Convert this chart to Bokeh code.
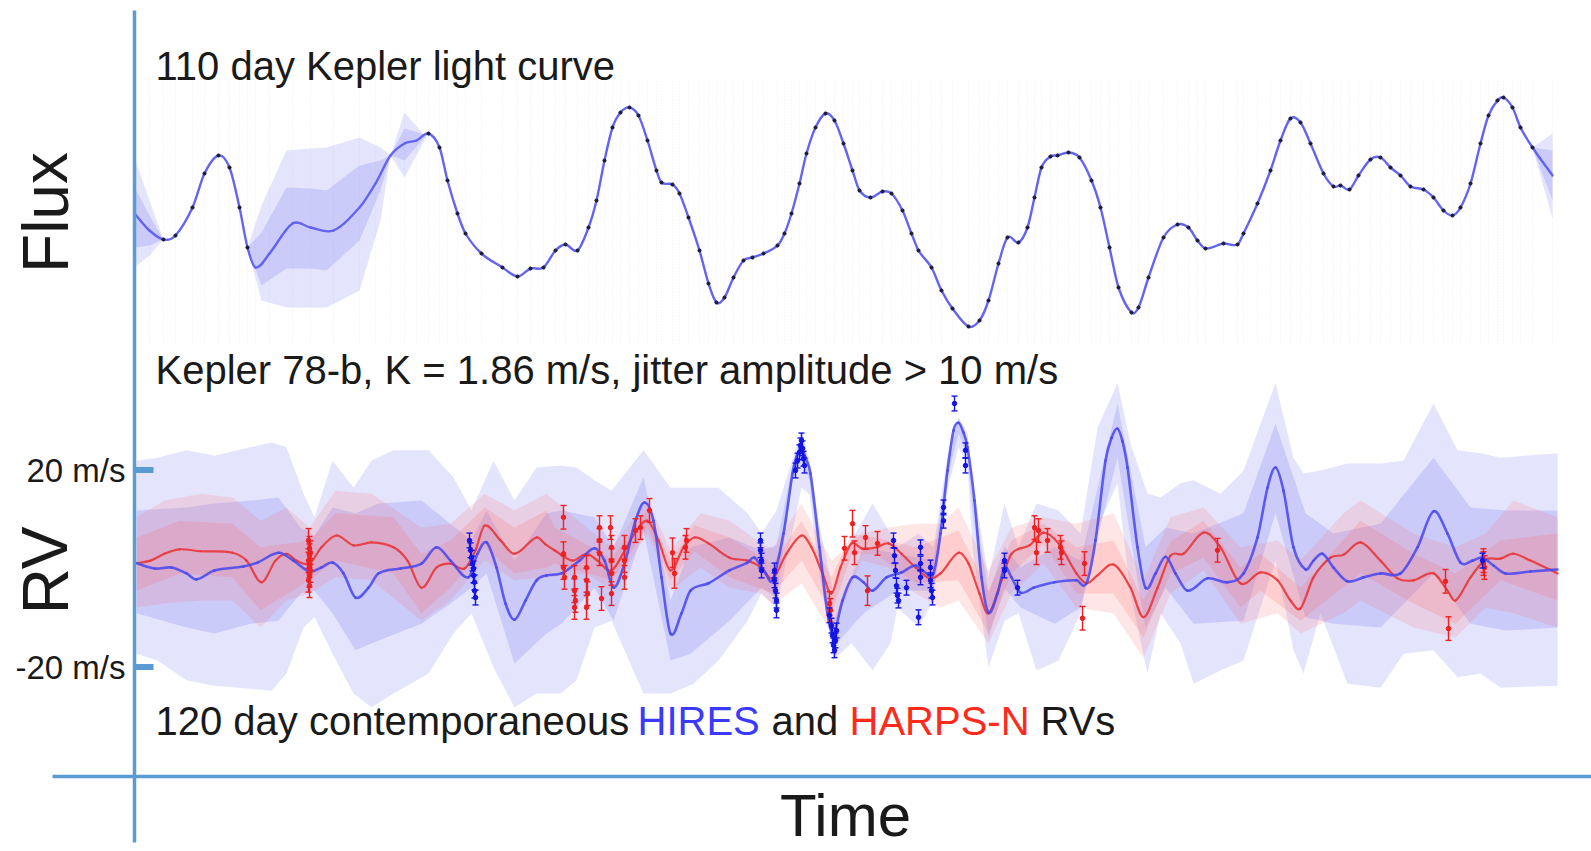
from bokeh.plotting import figure
from bokeh.models import Range1d, Label
from bokeh.embed import file_html
from bokeh.resources import INLINE

# ------------------------------------------------------------------ data
# Kepler light curve: (time [d], flux [ppt])
flux_obs = [(2.9,-0.6),(4.1,-0.2),(5.8,2.6),(7.0,6.0),(8.4,7.8),(9.5,6.6),(10.5,2.6),(11.3,-1.4),
    (29.4,10.0),(30.5,8.6),(31.3,5.3),(32.3,2.0),(33.1,0.0),(34.7,-2.0),(36.8,-3.4),(38.3,-4.3),
    (39.6,-3.5),(40.9,-3.4),(42.1,-1.7),(43.1,-1.1),(44.3,-1.7),(45.4,0.6),(46.2,3.3),(47.0,7.3),
    (47.8,10.6),(48.6,12.1),(49.5,12.6),(50.4,11.8),(51.3,9.3),(52.2,6.3),(52.7,5.1),(53.8,4.9),
    (54.5,4.0),(55.4,1.6),(56.5,-1.7),(57.4,-5.0),(58.2,-6.9),(59.0,-6.4),(59.9,-4.4),(60.9,-2.7),
    (61.8,-2.4),(62.9,-2.0),(64.3,-1.2),(65.0,0.0),(65.7,2.0),(66.5,5.0),(67.2,8.0),(68.1,10.6),
    (69.1,12.0),(70.0,11.3),(70.9,9.0),(71.8,6.3),(72.5,4.3),(73.6,3.6),(74.8,4.2),(75.7,4.0),
    (76.8,2.3),(77.7,0.0),(78.4,-1.7),(79.7,-3.4),(80.7,-5.7),(81.8,-7.5),(83.4,-9.3),(84.5,-8.7),
    (85.4,-6.7),(86.4,-3.0),(87.3,-0.4),(88.4,-0.9),(89.3,0.6),(90.0,3.6),(90.7,6.6),(91.6,7.7),
    (92.3,7.8),(93.4,8.1),(94.5,7.6),(95.7,5.3),(96.6,2.6),(97.5,-1.4),(98.4,-5.4),(99.7,-7.9),
    (100.4,-7.4),(101.4,-4.4),(102.9,-0.4),(104.3,0.9),(105.4,0.6),(106.3,-0.7),(107.1,-1.5),
    (108.9,-1.0),(110.3,-1.1),(110.9,0.0),(112.3,3.0),(113.6,6.3),(114.6,9.3),(115.6,11.5),
    (116.6,11.1),(117.6,9.0),(118.9,6.0),(119.9,4.7),(120.6,4.8),(121.5,4.4),(122.4,5.8),
    (123.6,7.4),(124.6,7.6),(125.6,6.6),(126.6,5.8),(127.6,4.7),(128.9,4.4),(129.9,3.6),
    (130.9,2.3),(131.8,1.8),(132.6,2.6),(133.6,5.0),(134.6,9.0),(135.4,11.8),(136.3,13.3),
    (136.9,13.6),(137.8,12.6),(138.6,10.6),(139.8,8.6)]
# GP prediction where the light curve has no data
flux_gap = [(0.0,2.0),(1.5,0.3),(12.1,-3.4),(13.5,-2.0),(15.8,1.0),(17.6,0.6),(19.9,0.3),
    (22.5,2.6),(24.1,5.0),(25.6,7.8),(27.0,9.0),(28.2,9.3),(141.8,5.8)]
# GP uncertainty bands in the gaps: (t, outer_hi, outer_lo, inner_hi, inner_lo)
flux_band_start = [(0.0,7.6,-3.4,4.6,-1.4),(1.5,3.3,-2.2,1.8,-1.2),(2.9,-0.6,-0.6,-0.6,-0.6)]
flux_band_mid = [(11.3,-1.4,-1.4,-1.4,-1.4),(12.7,2.8,-6.7,0.1,-5.2),(15.2,8.3,-7.4,4.6,-3.5),
    (17.6,8.5,-7.4,4.5,-3.5),(19.2,8.6,-7.4,4.3,-3.7),(22.5,9.6,-5.7,6.8,-0.7),
    (24.6,8.6,1.3,7.3,4.3),(25.6,7.8,7.8,7.8,7.8),(27.0,12.1,5.6,10.5,7.3),
    (29.0,9.8,9.3,9.9,9.6),(29.4,10.0,10.0,10.0,10.0)]
flux_band_end = [(139.8,8.6,8.6,8.6,8.6),(141.8,10.0,1.5,8.3,3.3)]

# HIRES GP mean (t, m/s)
hires_gp = [(0.0,1.2),(2.0,0.0),(3.7,0.2),(5.2,-1.0),(6.2,-2.2),(8.0,-0.4),(10.9,0.4),(12.3,1.2),
    (14.4,3.2),(15.9,1.6),(17.5,-0.6),(18.7,0.2),(19.8,1.2),(20.9,-1.0),(22.1,-5.9),(23.4,-3.9),
    (24.4,-1.0),(26.6,0.0),(28.7,1.0),(30.2,4.3),(31.6,1.6),(33.4,-1.8),(34.3,3.0),(35.2,5.3),
    (36.2,0.2),(37.1,-7.1),(38.0,-10.4),(39.1,-6.5),(40.2,-2.4),(41.2,-1.4),(42.7,-1.0),(44.5,1.6),
    (46.0,4.1),(47.0,1.6),(47.9,-3.9),(49.0,1.0),(50.1,9.7),(51.0,13.4),(51.9,9.7),(52.7,-1.8),
    (53.6,-13.2),(54.7,-9.1),(55.6,-4.5),(57.4,-3.0),(59.5,-0.4),(61.3,1.2),(62.0,2.2),(63.1,-1.0),
    (63.8,-2.4),(64.9,7.1),(65.8,19.3),(66.2,22.7),(66.7,24.4),(67.1,22.5),(67.6,19.3),(68.5,4.3),
    (69.3,-9.1),(69.9,-13.2),(70.8,-6.5),(71.8,-1.8),(72.9,-2.8),(73.8,-4.5),(75.2,-1.8),
    (76.7,-0.8),(78.1,0.6),(79.2,-1.0),(79.9,-1.0),(80.6,7.1),(81.3,19.9),(81.9,28.0),(82.4,29.6),
    (82.9,27.6),(83.3,24.6),(84.0,13.8),(84.7,-1.8),(85.4,-8.9),(86.3,-5.1),(87.0,0.2),(87.7,-1.8),
    (88.6,-4.9),(89.9,-3.9),(92.0,-2.8),(94.2,-2.4),(95.2,-3.0),(96.1,5.7),(97.1,21.9),(97.7,26.5),
    (98.3,28.4),(98.8,25.8),(99.3,20.5),(100.3,4.3),(101.1,-3.9),(102.1,-1.0),(103.1,2.4),
    (104.1,-1.0),(105.3,-4.5),(107.3,-2.0),(109.3,-2.8),(110.9,-1.0),(112.3,6.3),(113.3,16.4),
    (114.1,20.5),(114.9,15.8),(115.9,4.3),(117.1,-0.2),(117.9,1.6),(118.8,3.0),(119.9,0.2),
    (121.3,-2.6),(122.9,-1.8),(124.6,-1.0),(126.6,-1.0),(128.3,4.3),(129.9,11.6),(131.3,7.1),
    (132.6,1.2),(133.8,1.6),(134.8,2.2),(135.9,0.6),(137.1,-1.0),(139.6,-0.6),(142.3,-0.2)]
# HIRES bands (t, hi, lo)
hires_2sig = [(0.2,21.9,-17.3),(2.3,22.5,-18.7),(5.2,24.0,-22.7),(8.0,22.9,-23.8),(11.6,24.6,-24.4),
    (13.7,25.6,-24.8),(15.2,24.6,-21.3),(16.9,15.2,-12.0),(18.0,10.4,-9.9),(19.8,21.9,-17.3),
    (21.9,16.4,-25.4),(23.7,21.9,-28.2),(25.9,24.0,-25.4),(29.4,24.0,-21.3),(31.9,18.5,-13.2),
    (33.7,11.8,-9.1),(35.9,21.9,-20.1),(38.0,13.8,-28.2),(40.2,20.5,-25.4),(42.6,20.9,-25.4),
    (44.2,20.5,-22.7),(46.0,17.9,-12.0),(47.7,15.8,-10.6),(50.9,24.0,-25.4),(53.6,16.4,-25.4),
    (55.9,16.4,-23.4),(58.4,16.4,-18.7),(61.3,11.2,-10.6),(62.7,7.1,-5.1),(64.2,11.8,-8.0),
    (66.7,28.0,16.4),(67.5,22.0,15.0),(68.4,9.7,0.2),(69.9,-5.1,-18.7),(71.7,5.7,-15.2),
    (73.8,13.2,-20.7),(75.6,7.1,-15.2),(76.3,4.3,-7.9),(78.4,7.1,-12.0),(79.9,4.3,-6.5),
    (81.3,23.0,16.0),(82.4,30.7,24.6),(83.3,27.5,21.0),(83.8,17.9,4.3),(85.4,-1.8,-20.1),
    (87.0,13.2,-10.6),(88.4,4.3,-9.1),(90.2,13.2,-20.7),(92.4,11.8,-18.7),(94.6,7.1,-9.1),
    (96.3,28.6,8.3),(98.3,37.6,17.3),(99.6,25.4,-5.1),(101.3,15.2,-21.3),(102.6,14.4,-9.1),
    (104.6,17.3,-15.2),(105.9,17.9,-23.4),(108.6,15.2,-20.7),(110.9,19.9,-18.7),(114.1,37.6,1.6),
    (115.9,22.5,-16.6),(116.9,19.3,-21.3),(118.6,19.9,-9.1),(121.3,21.3,-23.4),(124.6,21.3,-24.2),
    (126.9,21.9,-17.3),(129.9,33.5,-16.6),(132.3,24.0,-22.1),(134.6,23.4,-21.3),(136.6,22.5,-24.2),
    (142.3,23.4,-23.8)]
hires_1sig = [(0.2,11.8,-9.1),(5.2,12.4,-12.0),(8.0,13.2,-13.2),(11.6,13.8,-11.2),(14.4,14.4,-10.6),
    (16.6,8.3,-5.1),(18.0,6.7,-4.5),(19.8,12.4,-9.1),(22.1,11.2,-16.6),(24.4,13.2,-14.6),
    (28.7,13.8,-11.2),(31.6,9.1,-7.1),(33.7,5.7,-3.9),(35.2,11.8,-1.0),(38.0,1.6,-19.3),
    (41.2,11.2,-13.2),(42.7,11.8,-11.2),(46.0,10.4,-3.9),(47.9,4.3,-10.6),(50.9,18.5,7.7),
    (53.6,-6.5,-18.7),(55.6,4.3,-17.3),(59.5,6.3,-10.6),(62.7,3.7,-3.9),(64.2,4.7,-6.0),
    (65.8,20.9,17.9),(66.7,26.0,21.9),(67.5,20.9,17.9),(68.4,5.7,2.6),(69.9,-10.6,-16.0),
    (72.9,4.3,-9.1),(76.3,3.0,-4.5),(79.9,1.6,-4.5),(81.3,21.5,18.3),(82.4,30.5,27.4),
    (83.3,26.0,22.9),(83.8,15.8,11.8),(85.4,-5.1,-14.0),(87.0,4.5,-4.0),(88.6,0.2,-7.9),
    (92.0,4.3,-11.2),(94.6,1.6,-7.9),(98.3,33.5,22.5),(101.1,4.3,-12.0),(103.1,8.3,-3.9),
    (105.9,7.1,-11.2),(110.9,11.2,-10.6),(114.1,29.4,11.2),(117.1,11.2,-9.9),(119.9,7.1,-11.2),
    (124.6,9.1,-12.0),(129.9,22.5,-1.0),(133.6,12.4,-11.2),(137.1,11.8,-12.6),(142.3,11.8,-12.0)]

# HARPS-N GP mean (t, m/s)
harps_gp = [(0.0,1.0),(1.6,1.6),(3.0,3.0),(4.5,3.9),(6.6,3.5),(9.8,3.2),(11.2,1.6),(12.7,-2.8),
    (14.1,1.6),(15.2,3.0),(16.2,1.6),(17.5,1.0),(18.7,4.3),(20.2,6.7),(21.9,4.7),(23.7,5.3),
    (25.9,4.3),(27.3,1.6),(28.7,-3.9),(30.2,0.2),(31.6,1.0),(33.0,0.0),(34.1,3.7),(35.0,8.7),
    (36.6,5.7),(38.0,3.0),(40.2,6.3),(41.1,4.9),(42.0,3.7),(43.8,1.6),(45.2,3.0),(46.3,1.6),
    (47.7,-0.4),(49.2,4.3),(50.2,7.7),(51.3,9.7),(52.4,5.7),(53.6,-0.4),(54.9,4.3),(56.0,6.3),
    (57.4,5.1),(59.5,2.2),(61.3,1.6),(62.7,0.2),(63.8,-2.0),(65.2,3.0),(66.7,6.7),(67.7,4.3),
    (68.8,-1.0),(69.7,-5.1),(70.6,0.2),(71.7,5.1),(72.7,4.1),(74.2,4.3),(75.4,5.1),(76.7,3.0),
    (78.1,0.2),(79.5,-2.0),(80.6,-1.0),(82.4,3.2),(83.4,1.0),(84.5,-5.1),(85.4,-9.1),(86.7,-2.4),
    (87.7,3.0),(89.5,4.7),(90.9,7.3),(92.4,5.1),(94.2,-1.0),(95.2,-3.0),(96.3,-1.4),(97.9,0.8),
    (99.6,-3.9),(100.9,-9.9),(102.3,-3.9),(103.6,2.6),(104.9,3.0),(106.9,7.3),(108.6,4.3),
    (110.6,-3.0),(112.6,-0.8),(114.3,-2.4),(115.6,-6.5),(116.6,-8.1),(117.9,-1.8),(119.6,2.2),
    (120.9,2.8),(122.6,5.3),(124.6,1.6),(126.3,-2.0),(127.9,-2.4),(129.9,-1.0),(131.3,-4.5),
    (132.1,-6.5),(133.6,-1.8),(135.1,1.8),(136.6,2.0),(137.9,3.0),(139.6,1.6),(142.3,-1.0)]
harps_2sig = [(0.2,10.4,-7.9),(3.0,13.8,-7.1),(6.6,15.2,-6.5),(9.8,14.4,-6.5),(12.6,9.7,-12.0),
    (15.2,12.4,-6.5),(17.5,8.3,-5.1),(20.1,15.8,-1.8),(23.7,15.2,-2.4),(28.7,8.3,-10.6),
    (31.6,9.1,-6.5),(35.0,15.2,1.6),(38.0,11.8,-2.4),(41.2,15.2,-1.8),(45.2,8.3,-1.0),
    (47.7,4.3,-4.5),(51.3,13.8,7.1),(53.6,3.7,-4.5),(56.6,11.2,0.2),(59.5,9.7,-3.9),
    (62.7,5.1,-5.1),(63.8,4.0,-7.5),(66.7,13.2,-3.0),(69.7,1.6,-13.2),(72.7,7.1,1.6),
    (75.4,8.3,0.2),(78.1,9.1,-5.1),(80.6,9.1,-7.9),(82.4,12.4,-6.5),(85.4,-0.4,-15.2),
    (87.7,8.3,-5.1),(90.9,10.4,1.0),(94.2,9.1,-7.9),(97.9,11.2,-9.1),(100.9,-2.4,-18.1),
    (103.6,10.4,-5.1),(106.9,12.4,-0.4),(110.6,4.3,-11.2),(114.3,5.7,-9.1),(116.6,1.6,-13.2),
    (120.9,11.2,-9.1),(122.6,13.8,-6.5),(127.9,7.1,-12.0),(132.1,4.3,-14.0),(135.1,7.1,-7.9),
    (137.9,13.8,-9.1),(142.3,10.4,-12.0)]
harps_1sig = [(0.2,6.3,-4.5),(4.5,9.7,-1.0),(9.8,9.1,-1.8),(12.6,4.3,-8.5),(17.5,5.7,-2.4),
    (20.1,11.2,1.6),(25.9,10.4,-1.0),(28.7,3.0,-9.1),(31.6,5.7,-3.9),(35.0,12.4,4.3),
    (38.0,8.3,-1.0),(41.2,11.8,0.2),(42.0,8.3,1.0),(47.7,2.2,-2.4),(51.3,11.8,8.3),
    (53.6,1.6,-2.4),(56.0,8.8,3.5),(59.5,6.3,-1.8),(63.8,1.0,-5.0),(66.7,9.7,1.6),
    (69.7,-1.8,-9.1),(71.7,7.0,2.8),(74.1,6.3,3.0),(78.1,4.3,-3.0),(82.4,7.7,-2.4),
    (85.4,-4.5,-13.2),(87.7,5.7,-1.0),(90.9,9.1,5.1),(94.2,4.3,-5.1),(97.9,5.7,-5.1),
    (100.9,-6.5,-14.0),(103.6,5.5,-1.0),(106.9,9.7,2.2),(110.6,0.2,-7.9),(112.6,3.0,-4.5),
    (116.6,-3.9,-10.6),(122.6,9.7,-1.0),(127.9,3.0,-7.1),(132.1,-1.0,-11.2),(136.6,5.7,-2.4),
    (142.3,7.1,-6.5)]

# RV measurements (t, m/s, error)
harps_rv = [(17.4,5.7,2.4),(17.5,4.1,2.4),(17.6,3.2,2.4),(17.5,2.6,2.4),(17.4,1.6,2.4),
    (17.5,0.6,2.4),(17.6,-0.4,2.4),(17.5,-1.4,2.4),(17.4,-2.4,2.4),(17.5,-3.5,2.4),
    (42.9,10.4,2.4),(42.9,3.0,2.4),(42.9,0.2,2.4),(43.0,-1.8,2.4),(44.0,-1.8,2.4),
    (44.0,-4.5,2.4),(44.1,-6.5,2.4),(44.0,-7.9,2.4),(45.2,0.2,2.4),(45.2,-2.4,2.4),
    (45.3,-5.1,2.4),(45.2,-7.9,2.4),(46.5,8.3,2.4),(46.5,5.7,2.4),(46.5,3.0,2.4),
    (46.7,-6.1,2.4),(47.6,8.3,2.4),(47.7,4.3,2.4),(47.7,1.6,2.4),(47.7,-1.0,2.4),
    (47.7,-5.1,2.4),(49.0,4.3,2.4),(49.0,1.6,2.4),(49.0,-1.8,2.4),(50.1,7.7,2.4),
    (50.6,8.3,2.4),(51.5,11.8,2.4),(53.8,3.2,3.0),(54.0,-1.0,3.0),(55.1,4.3,2.4),
    (55.2,5.7,2.4),(69.5,-7.1,2.4),(69.6,-8.5,2.4),(71.0,4.1,2.4),(71.8,9.1,2.7),
    (72.0,3.2,2.4),(73.1,6.3,2.4),(73.3,-4.5,3.0),(74.3,5.1,2.4),(90.0,8.3,2.4),
    (90.2,3.2,2.4),(90.4,7.7,2.4),(91.3,5.7,2.4),(92.6,4.3,2.4),(92.7,3.2,2.4),
    (95.0,1.0,2.4),(94.8,-10.1,2.4),(108.3,3.7,2.4),(131.1,-2.6,2.4),(131.4,-12.2,2.4),
    (134.9,1.6,2.4),(134.9,1.0,2.4),(135.0,0.2,2.4)]
hires_rv = [(33.5,5.7,1.5),(33.6,3.7,1.5),(33.7,2.2,1.5),(33.8,1.0,1.5),(33.9,0.0,1.5),
    (33.9,-1.4,1.5),(34.0,-2.8,1.5),(34.0,-4.5,1.5),(34.1,-5.9,1.5),(62.6,5.7,1.5),
    (62.6,3.7,1.5),(62.7,1.6,1.5),(62.7,-0.4,1.5),(64.0,-0.4,1.5),(64.0,-2.4,1.5),
    (64.1,-4.5,1.5),(64.2,-6.5,1.5),(64.2,-8.5,1.5),(66.1,19.9,1.5),(66.3,21.9,1.5),
    (66.5,23.6,1.5),(66.6,25.0,1.5),(66.7,26.0,1.5),(66.8,24.4,1.5),(66.9,22.3,1.5),
    (67.0,20.9,1.5),(69.5,-9.5,1.5),(69.7,-11.6,1.5),(69.8,-13.6,1.5),(69.9,-15.6,1.5),
    (70.0,-16.6,1.5),(70.1,-14.6,1.5),(70.2,-12.6,1.5),(75.9,5.7,1.5),(76.0,2.6,1.5),
    (76.1,-0.4,1.5),(76.2,-3.5,1.5),(76.3,-5.5,1.5),(76.4,-6.5,1.5),(77.2,-3.9,1.5),
    (78.4,-9.9,1.5),(78.6,4.3,1.5),(78.6,1.0,1.5),(78.6,-1.8,1.5),(79.6,0.2,1.5),
    (79.6,-2.4,1.5),(79.7,-4.5,1.5),(79.8,-5.9,1.5),(80.9,12.4,1.5),(80.9,9.7,1.5),
    (82.0,33.5,1.5),(83.1,24.0,1.5),(83.1,20.9,1.5),(87.0,1.6,1.5),(87.0,-0.4,1.5),
    (88.3,-3.9,1.5),(134.8,1.6,1.5)]

rv_ticks = [20, -20]
rv_tick_labels = ["20 m/s", "-20 m/s"]

# ------------------------------------------------------------------ layout / style
W, H = 1591, 851
T0_PX, PX_PER_DAY = 134.0, 10.0     # time axis: pixel of t=0 and scale
RV0_PX, PX_PER_MS = 568.0, 4.925    # RV axis: pixel of 0 m/s and scale
F0_PX, PX_PER_PPT = 233.0, 10.0     # flux axis

def tx(px):
    return (px - T0_PX) / PX_PER_DAY

def ry(py):
    return (RV0_PX - py) / PX_PER_MS

AXIS = "#5b9bd5"
FONT = "Liberation Sans"
BLUE_BAND, RED_BAND = "#6a6af2", "#ff6a6a"
BLUE_LINE, RED_LINE = "#4646ee", "#e8363a"

p = figure(width=W, height=H,
           x_range=Range1d(tx(0), tx(W)), y_range=Range1d(ry(H), ry(0)),
           output_backend="svg", toolbar_location=None, min_border=0,
           x_axis_location=None, y_axis_location=None, outline_line_color=None,
           background_fill_color="white", border_fill_color="white")
p.extra_y_ranges = {"flux": Range1d((F0_PX - H) / PX_PER_PPT, F0_PX / PX_PER_PPT)}
p.grid.visible = False

def cols(rows):
    return [list(c) for c in zip(*rows)]

def smooth_line(pts, color, width, alpha=1.0, **kw):
    """Draw a polyline through the points as a chain of cubic Bezier pieces."""
    xs, ys = cols(pts)
    n = len(xs)
    m = []
    for i in range(n):
        a, b = max(i - 1, 0), min(i + 1, n - 1)
        m.append((ys[b] - ys[a]) / (xs[b] - xs[a]))
    x0, y0, x1, y1, cx0, cy0, cx1, cy1 = ([] for _ in range(8))
    for i in range(n - 1):
        d = (xs[i + 1] - xs[i]) / 3.0
        x0.append(xs[i]); y0.append(ys[i]); x1.append(xs[i + 1]); y1.append(ys[i + 1])
        cx0.append(xs[i] + d); cy0.append(ys[i] + m[i] * d)
        cx1.append(xs[i + 1] - d); cy1.append(ys[i + 1] - m[i + 1] * d)
    p.bezier(x0=x0, y0=y0, x1=x1, y1=y1, cx0=cx0, cy0=cy0, cx1=cx1, cy1=cy1,
             line_color=color, line_width=width, line_alpha=alpha, line_cap="round", **kw)

# ---------------- flux panel
fo_t, fo_f = cols(flux_obs)
line_pts = sorted(flux_obs + flux_gap)
fl_t, fl_f = cols(line_pts)

p.segment(x0=fl_t, y0=[(F0_PX - 343) / PX_PER_PPT] * len(fl_t), x1=fl_t,
          y1=[(F0_PX - 80) / PX_PER_PPT] * len(fl_t), line_color="#efeff2",
          line_width=1, line_dash="1 2", y_range_name="flux")
for band in (flux_band_start, flux_band_mid, flux_band_end):
    bt, oh, ol, ih, il = cols(band)
    p.varea(x=bt, y1=ol, y2=oh, fill_color=BLUE_BAND, fill_alpha=0.18, y_range_name="flux")
    p.varea(x=bt, y1=il, y2=ih, fill_color=BLUE_BAND, fill_alpha=0.2, y_range_name="flux")
smooth_line(line_pts, "#6464f2", 2.4, y_range_name="flux")
p.scatter(fo_t, fo_f, size=3.2, color="#1c1c38", y_range_name="flux")

# ---------------- RV panel
for band, col, a in ((hires_2sig, BLUE_BAND, 0.18), (hires_1sig, BLUE_BAND, 0.2),
                     (harps_2sig, RED_BAND, 0.17), (harps_1sig, RED_BAND, 0.2)):
    bt, bh, bl = cols(band)
    p.varea(x=bt, y1=bl, y2=bh, fill_color=col, fill_alpha=a)

smooth_line(harps_gp, RED_LINE, 2.2, 0.9)
smooth_line(hires_gp, BLUE_LINE, 2.6, 0.85)

for data, col in ((harps_rv, "#f02020"), (hires_rv, "#1414e6")):
    t, v, e = cols(data)
    lo = [a - b for a, b in zip(v, e)]
    hi = [a + b for a, b in zip(v, e)]
    p.segment(x0=t, y0=lo, x1=t, y1=hi, line_color=col, line_width=1.4)
    p.scatter(t, lo, marker="dash", size=6, line_color=col, line_width=1.4)
    p.scatter(t, hi, marker="dash", size=6, line_color=col, line_width=1.4)
    p.scatter(t, v, size=4.5, color=col)

# ---------------- hand-drawn axes of the slide
p.segment(x0=[0], y0=[ry(10)], x1=[0], y1=[ry(842)], line_color=AXIS, line_width=3.5)
p.segment(x0=[tx(52)], y0=[ry(776)], x1=[tx(W)], y1=[ry(776)], line_color=AXIS, line_width=3.5)
p.segment(x0=[0] * len(rv_ticks), y0=rv_ticks, x1=[tx(153)] * len(rv_ticks), y1=rv_ticks,
          line_color=AXIS, line_width=6)
for val, lab in zip(rv_ticks, rv_tick_labels):
    p.text(x=[tx(125)], y=[val], text=[lab], text_align="right", text_baseline="middle",
           text_font_size="33px", text_color="#1a1a1a",
           text_font={"value": FONT})

def label(txt, x, y, size, color="#1a1a1a", align="left", angle=0.0):
    # (x, y): centre of the capital letters, in pixels from the top-left corner
    p.add_layout(Label(x=x, y=H - y, x_units="screen", y_units="screen", text=txt,
                       text_font=FONT, text_font_size=size, text_color=color,
                       text_align=align, text_baseline="middle", angle=angle))

label("110 day Kepler light curve", 155, 65, "40px")
label("Kepler 78-b, K = 1.86 m/s, jitter amplitude > 10 m/s", 155, 369, "40px")
label("120 day contemporaneous", 155, 720, "40px")
label("HIRES", 637, 720, "40px", color="#3a3aff")
label("and", 771, 720, "40px")
label("HARPS-N", 849, 720, "40px", color="#ff2a1a")
label("RVs", 1040, 720, "40px")
label("Flux", 45, 212, "64px", align="center", angle=1.5708)
label("RV", 45, 570, "64px", align="center", angle=1.5708)
label("Time", 845, 815, "60px", align="center")

open("out.html", "w").write(file_html(p, INLINE))
